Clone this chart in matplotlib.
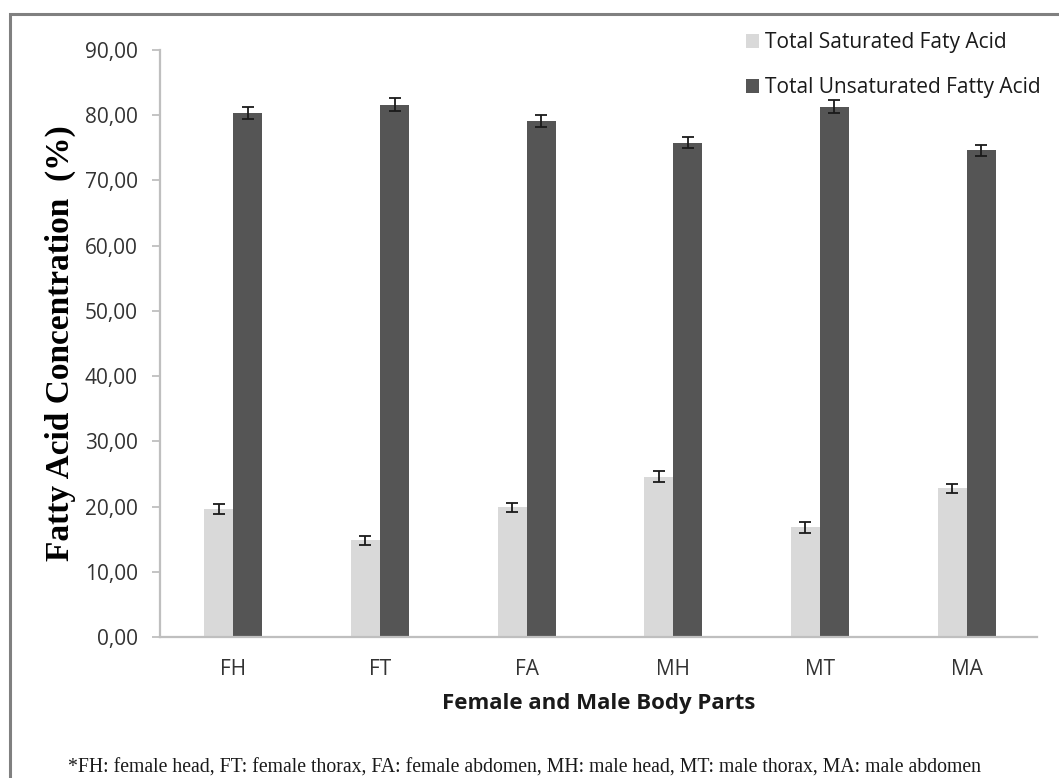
import numpy as np
import matplotlib
matplotlib.use("Agg")
import matplotlib.pyplot as plt
from matplotlib.ticker import FuncFormatter
from matplotlib.patches import Rectangle

## Dados
partes = ["FH", "FT", "FA", "MH", "MT", "MA"]
saturados = [19.6, 14.8, 19.9, 24.6, 16.8, 22.8]
saturados_err = [0.8, 0.7, 0.7, 0.8, 0.9, 0.7]
insaturados = [80.3, 81.6, 79.1, 75.8, 81.3, 74.6]
insaturados_err = [0.9, 1.0, 0.9, 0.9, 1.0, 0.9]
legendas = ["Total Saturated Faty Acid", "Total Unsaturated Fatty Acid"]

cor_clara = "#d9d9d9"
cor_escura = "#555555"
W, H = 1059, 778

fig = plt.figure(figsize=(W / 100, H / 100), dpi=100)
# moldura cinza em volta (cortada embaixo e na direita)
fig.patches.append(Rectangle((10 / W, -0.05), 1.2, 1 - 14 / H + 0.05, transform=fig.transFigure,
                             fill=False, edgecolor="#808080", linewidth=2.2))

ax = fig.add_axes([160 / W, 1 - 637 / H, (1037 - 160) / W, (637 - 50) / H])
x = np.arange(len(partes))
w = 0.198

ek = dict(elinewidth=1.3, capthick=1.3, ecolor="#1a1a1a")
ax.bar(x - w / 2, saturados, w, color=cor_clara, label=legendas[0],
       yerr=saturados_err, capsize=4.5, error_kw=ek)
ax.bar(x + w / 2, insaturados, w, color=cor_escura, label=legendas[1],
       yerr=insaturados_err, capsize=4.5, error_kw=ek)

ax.set_xlim(-0.5, 5.48)
ax.set_ylim(0, 90)
ax.set_yticks(np.arange(0, 91, 10))
ax.yaxis.set_major_formatter(FuncFormatter(lambda v, p: f"{v:.2f}".replace(".", ",")))
ax.set_xticks(x)
ax.set_xticklabels(partes)

for s in ["top", "right"]:
    ax.spines[s].set_visible(False)
for s in ["left", "bottom"]:
    ax.spines[s].set_color("#bfbfbf")
    ax.spines[s].set_linewidth(1.6)

ax.tick_params(axis="y", length=6, width=1.3, color="#bfbfbf", labelsize=15,
               labelcolor="#333333", pad=10)
ax.tick_params(axis="x", length=0, labelsize=15, labelcolor="#333333", pad=16)
for lbl in ax.get_xticklabels() + ax.get_yticklabels():
    lbl.set_family("Open Sans")

ax.set_ylabel("Fatty Acid Concentration  (%)", family="Liberation Serif", fontweight="bold",
              fontsize=24, labelpad=6)
ax.set_xlabel("Female and Male Body Parts", family="Open Sans", fontweight="bold",
              fontsize=16, labelpad=9, color="#1a1a1a")

leg = fig.legend(loc="upper left", bbox_to_anchor=(736 / W, 1 - 22 / H), frameon=False,
                 handlelength=0.6, handleheight=0.6, handletextpad=0.3, labelspacing=1.15,
                 borderpad=0, prop={"family": "Open Sans", "size": 15})
for t in leg.get_texts():
    t.set_color("#1a1a1a")

fig.text(68 / W, 1 - 768 / H, "*FH: female head, FT: female thorax, FA: female abdomen, MH: male head, "
         "MT: male thorax, MA: male abdomen", family="Liberation Serif", fontsize=14.2,
         color="#1a1a1a", va="center")

fig.savefig("out.png")
